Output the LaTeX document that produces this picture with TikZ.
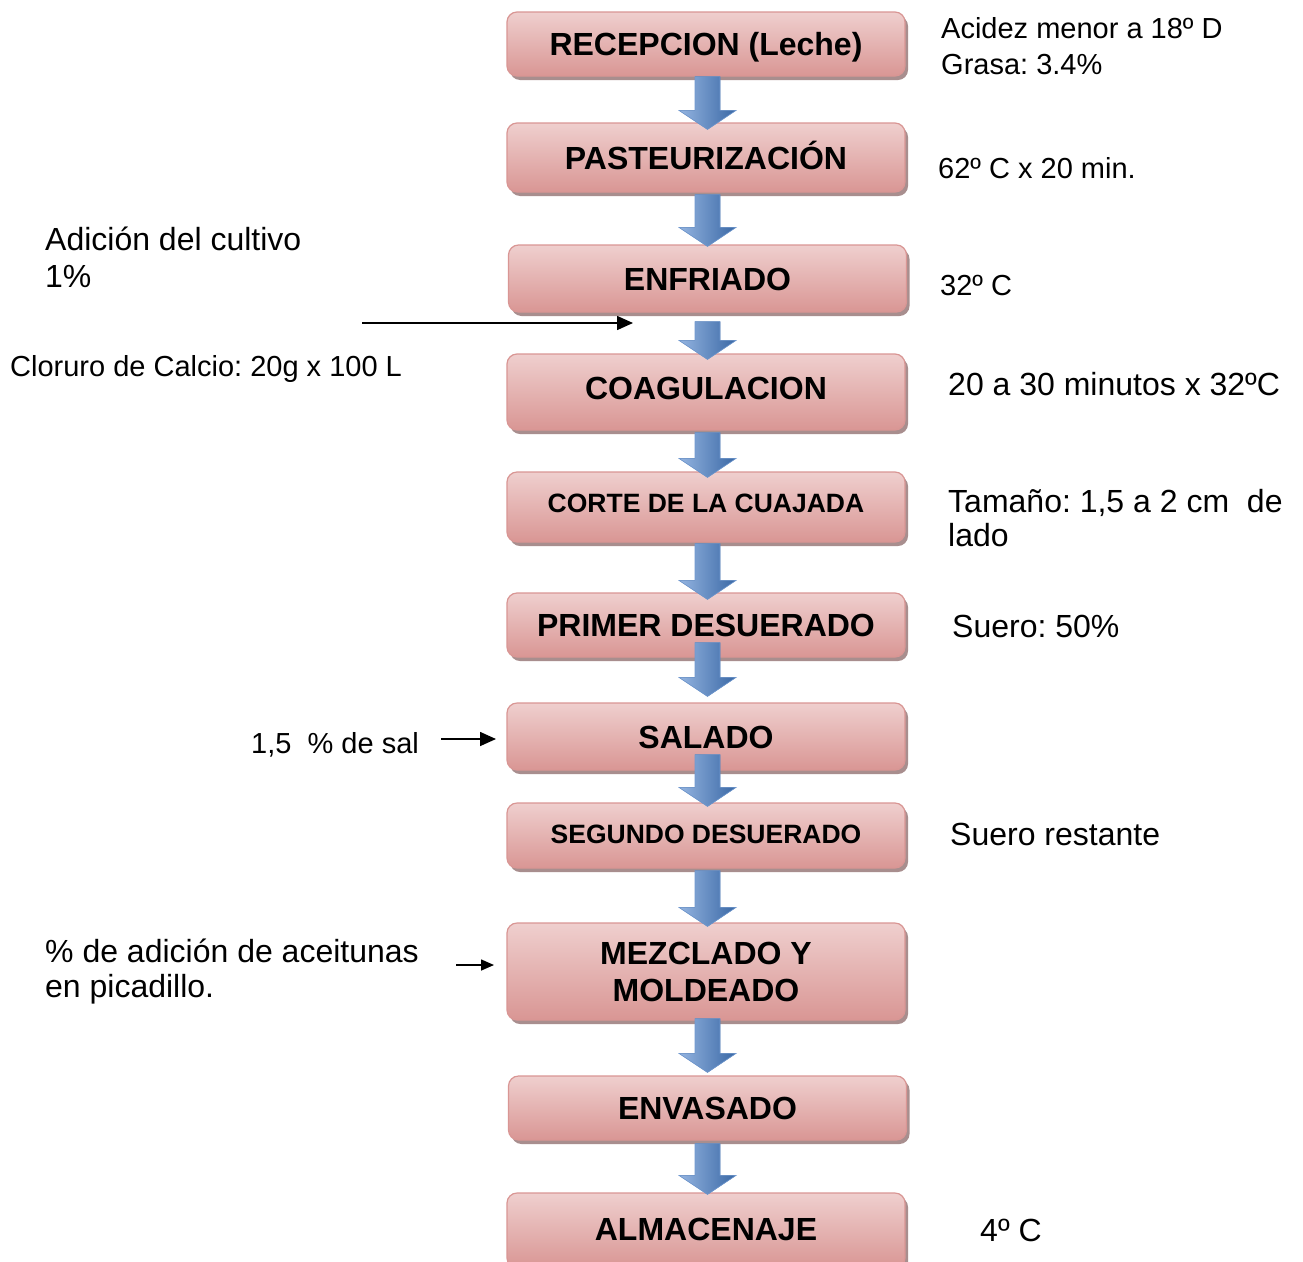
\documentclass[tikz,border=0pt]{standalone}
\usepackage{fontspec}
\setmainfont{Liberation Sans}
\usetikzlibrary{arrows.meta,shadows,calc}
\frenchspacing
\definecolor{boxborder}{HTML}{D99694}
\definecolor{boxtop}{HTML}{EFCFCE}
\definecolor{boxmid}{HTML}{F4E1E0}
\definecolor{boxbot}{HTML}{D99694}
\definecolor{boxshadow}{HTML}{A88E8E}
\definecolor{arrlight}{HTML}{94B4E0}
\definecolor{arrmid}{HTML}{4F81BD}
\definecolor{arrright}{HTML}{3A68A5}
\definecolor{arrdark}{HTML}{243F66}
\definecolor{arrline}{HTML}{6F98CF}
\tikzset{
  procbox/.style={rounded corners=10pt, draw=boxborder, line width=1.2pt,
    top color=boxtop, middle color=boxmid, bottom color=boxbot,
    minimum width=398pt, inner sep=0pt, align=center,
    font=\bfseries\fontsize{32}{37}\selectfont, text height=23pt, text depth=0pt,
    drop shadow={shadow xshift=3pt, shadow yshift=-4pt, fill=boxshadow, opacity=1}},
  smallbox/.style={procbox, font=\bfseries\fontsize{26.5}{31}\selectfont, text height=19pt},
  note/.style={anchor=base west, inner sep=0pt, align=left, font=\fontsize{29}{35}\selectfont},
  bignote/.style={note, font=\fontsize{32}{35}\selectfont},
  feed/.style={line width=1.6pt, -{Triangle[length=16pt,width=14pt]}},
  feedsmall/.style={line width=1.5pt, -{Triangle[length=13pt,width=11pt]}},
}
\newcommand\bluearr[2]{%
  \fill[arrdark, xshift=2.5pt, yshift=-3pt] let \p1=(#1), \p2=(#2) in
    (\x1-12.5pt,\y1) -- (\x1+12.5pt,\y1) -- (\x1+12.5pt,\y2+19pt) -- (\x1+28.5pt,\y2+19pt)
    -- (\x1,\y2) -- (\x1-28.5pt,\y2+19pt) -- (\x1-12.5pt,\y2+19pt) -- cycle;
  \path[draw=arrline, line width=0.6pt, left color=arrlight, middle color=arrmid, right color=arrright]
    let \p1=(#1), \p2=(#2) in
    (\x1-12.5pt,\y1) -- (\x1+12.5pt,\y1) -- (\x1+12.5pt,\y2+19pt) -- (\x1+28.5pt,\y2+19pt)
    -- (\x1,\y2) -- (\x1-28.5pt,\y2+19pt) -- (\x1-12.5pt,\y2+19pt) -- cycle;
}
\begin{document}
\begin{tikzpicture}[x=1pt, y=-1pt]
\clip (0,0) rectangle (1303,1261);
\fill[white] (0,0) rectangle (1303,1261);

% process boxes
\node[procbox, minimum height=64pt] (b1) at (706,44) {RECEPCION (Leche)};
\node[procbox, minimum height=69pt] (b2) at (706,157.5) {PASTEURIZACIÓN};
\node[procbox, minimum height=67pt] (b3) at (707.5,278.5) {ENFRIADO};
\node[procbox, minimum height=76pt, text depth=8pt] (b4) at (706,392) {COAGULACION};
\node[smallbox, minimum height=70pt, text depth=8pt] (b5) at (706,507) {CORTE DE LA CUAJADA};
\node[procbox, minimum height=64pt] (b6) at (706,625) {PRIMER DESUERADO};
\node[procbox, minimum height=67pt] (b7) at (706,736.5) {SALADO};
\node[smallbox, minimum height=65pt, text depth=3pt] (b8) at (706,835.5) {SEGUNDO DESUERADO};
\node[procbox, minimum height=97pt, text height=, text depth=] (b9) at (706,971.5) {MEZCLADO Y\\MOLDEADO};
\node[procbox, minimum height=64pt] (b10) at (707.5,1108) {ENVASADO};
\node[procbox, minimum height=75pt, text depth=4pt] (b11) at (706,1230.5) {ALMACENAJE};

% flow arrows
\bluearr{$(b1.south)+(1.5,0)$}{$(b2.north)+(1.5,7)$}
\bluearr{$(b2.south)+(1.5,2)$}{$(b3.north)+(0,2)$}
\bluearr{$(b3.south)+(0,9)$}{$(b4.north)+(1.5,6)$}
\bluearr{$(b4.south)+(1.5,2)$}{$(b5.north)+(1.5,6)$}
\bluearr{$(b5.south)+(1.5,1)$}{$(b6.north)+(1.5,7)$}
\bluearr{$(b6.south)+(1.5,-15)$}{$(b7.north)+(1.5,-6)$}
\bluearr{$(b7.south)+(1.5,-16)$}{$(b8.north)+(1.5,4)$}
\bluearr{$(b8.south)+(1.5,2)$}{$(b9.north)+(1.5,4)$}
\bluearr{$(b9.south)+(1.5,-2)$}{$(b10.north)+(0,-3)$}
\bluearr{$(b10.south)+(0,3)$}{$(b11.north)+(1.5,2)$}

% right notes (multi-line nodes: base = last line)
\node[note, font=\fontsize{29}{36}\selectfont] (n1) at (941,74) {Acidez menor a 18º D\\Grasa: 3.4\%};
\node[note] (n2) at (938,178) {62º C x 20 min.};
\node[note] (n3) at (940,295) {32º C};
\node[bignote] (n4) at (948,395) {20 a 30 minutos x 32ºC};
\node[bignote, font=\fontsize{32}{34}\selectfont] (n5) at (948,546) {Tamaño: 1,5 a 2 cm~~de\\lado};
\node[bignote] (n6) at (952,637) {Suero: 50\%};
\node[bignote] (n7) at (950,845) {Suero restante};
\node[bignote] (n8) at (980,1241) {4º C};

% left notes
\node[bignote, font=\fontsize{32}{37}\selectfont] (l1) at (45,287) {Adición del cultivo\\1\%};
\node[note] (l2) at (10,376) {Cloruro de Calcio: 20g x 100 L};
\node[note] (l3) at (251,753) {1,5~~\% de sal};
\node[bignote] (l4) at (45,997) {\% de adición de aceitunas\\en picadillo.};

% feed arrows
\coordinate (f1s) at (362,323);
\coordinate (f1e) at (633,323);
\coordinate (f2s) at (441,739);
\coordinate (f2e) at (496,739);
\coordinate (f3s) at (456,965);
\coordinate (f3e) at (494,965);
\draw[feed] (f1s) -- (f1e);
\draw[feed] (f2s) -- (f2e);
\draw[feedsmall] (f3s) -- (f3e);
\end{tikzpicture}
\end{document}
